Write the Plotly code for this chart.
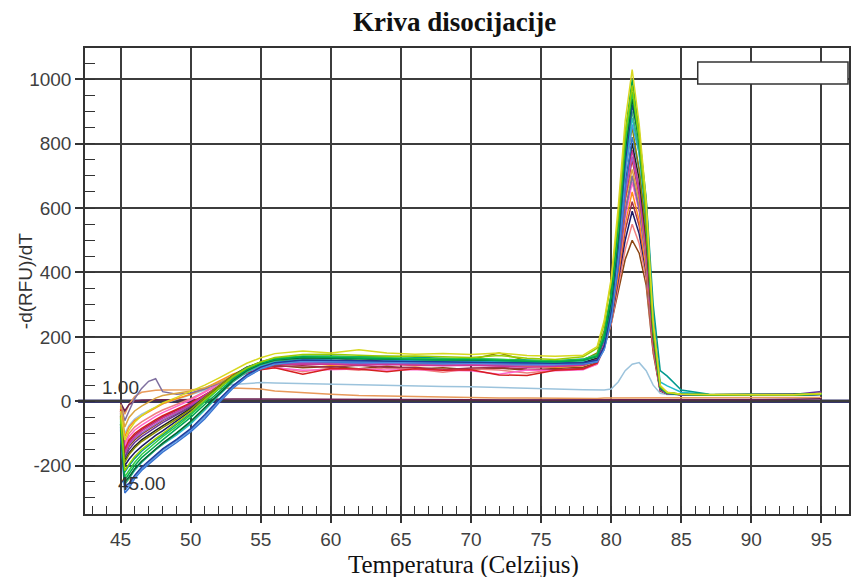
import plotly.graph_objects as go

# Temperature grid (deg C): left drop, plateau, melt peak + tail
temp_left = [45.0, 45.3, 45.6, 46, 46.5, 47, 47.5, 48, 49, 50, 51, 52, 53, 54, 55]
temp_mid = [56, 58, 60, 62, 64, 66, 68, 70, 72, 74, 76, 78]
temp_peak = [79, 79.5, 80, 80.5, 81, 81.5, 82, 82.5, 83, 83.5, 84, 85, 87, 90, 93, 95]
temperature = temp_left + temp_mid + temp_peak

# -d(RFU)/dT per well
well_24 = [-5, -40, -10, 15, 28, 32, 34, 35, 35, 36, 38, 40, 41, 40, 38,
           32, 26, 22, 18, 16, 14, 12, 11, 10, 10, 9, 9,
           9, 10, 10, 11, 12, 12, 12, 11, 10, 10, 10, 10, 10, 10, 10, 12]
well_25 = [-5, -30, -10, 0, 3, 4, 5, 5, 5, 6, 6, 6, 7, 7, 7,
           6, 6, 6, 5, 5, 5, 5, 5, 4, 4, 4, 4,
           4, 4, 5, 5, 5, 5, 5, 5, 5, 5, 6, 6, 6, 6, 6, 8]
well_23 = [-20, -100, -75, -55, -40, -28, -18, -8, 5, 20, 35, 45, 52, 56, 58,
           57, 55, 52, 50, 49, 48, 46, 45, 42, 40, 38, 36,
           35, 35, 38, 60, 95, 115, 120, 95, 50, 25, 21, 20, 20, 20, 20, 22]
well_14 = [-35, -170, -140, -120, -102, -88, -74, -60, -38, -14, 16, 46, 74, 94, 106,
           112, 104, 108, 101, 109, 100, 104, 98, 103, 96, 102, 106,
           120, 170, 240, 340, 440, 500, 460, 360, 150, 32, 23, 21, 20, 20, 20, 22]
well_13 = [-20, -130, -100, -80, -64, -50, -38, -27, -10, 8, 30, 55, 78, 94, 102,
           106, 92, 103, 96, 104, 100, 90, 101, 97, 88, 97, 100,
           115, 165, 240, 350, 470, 550, 490, 380, 155, 33, 23, 21, 20, 20, 20, 22]
well_12 = [-50, -200, -180, -160, -140, -122, -106, -92, -62, -30, 8, 44, 78, 104, 120,
           128, 130, 135, 127, 132, 125, 124, 130, 123, 126, 120, 122,
           130, 170, 250, 370, 500, 590, 520, 400, 165, 33, 23, 20, 20, 20, 19, 22]
well_27 = [-30, -155, -125, -105, -88, -74, -61, -48, -28, -8, 18, 46, 72, 90, 102,
           108, 110, 106, 112, 105, 106, 98, 103, 105, 100, 98, 102,
           118, 170, 255, 380, 530, 620, 545, 410, 165, 34, 23, 21, 20, 20, 20, 22]
well_11 = [-15, -110, -80, -60, -45, -32, -20, -8, 8, 22, 40, 62, 84, 100, 110,
           115, 120, 112, 114, 118, 110, 112, 116, 110, 108, 106, 110,
           125, 180, 260, 390, 550, 650, 560, 410, 165, 34, 24, 21, 20, 21, 20, 25]
well_16 = [-25, -140, -110, -90, -74, -60, -47, -35, -16, 4, 28, 54, 78, 94, 100,
           104, 96, 98, 100, 97, 99, 96, 95, 84, 97, 95, 98,
           115, 175, 270, 410, 570, 680, 590, 430, 175, 35, 24, 21, 20, 20, 20, 22]
well_10 = [-40, -175, -150, -128, -110, -95, -80, -66, -42, -18, 14, 46, 78, 100, 114,
           120, 124, 120, 117, 122, 116, 113, 118, 112, 113, 110, 114,
           128, 180, 270, 410, 590, 700, 600, 440, 180, 35, 24, 21, 20, 20, 21, 30]
well_21 = [-10, -60, -30, 8, 40, 62, 70, 30, 22, 26, 38, 56, 78, 96, 108,
           114, 118, 116, 115, 114, 116, 113, 112, 111, 112, 110, 112,
           125, 180, 270, 420, 590, 700, 600, 440, 175, 35, 24, 21, 20, 20, 20, 25]
well_22 = [-10, -80, -50, -30, -15, -2, 10, 18, 25, 32, 42, 58, 78, 96, 110,
           118, 124, 122, 120, 118, 120, 117, 116, 118, 115, 113, 116,
           130, 190, 290, 450, 620, 720, 620, 450, 180, 36, 24, 21, 20, 20, 20, 22]
well_09 = [-25, -150, -120, -100, -84, -70, -57, -45, -25, -5, 20, 46, 70, 88, 98,
           104, 84, 102, 100, 92, 101, 96, 98, 82, 80, 96, 100,
           118, 175, 270, 420, 630, 750, 640, 465, 185, 36, 24, 21, 20, 20, 21, 24]
well_20 = [-35, -165, -135, -115, -98, -84, -70, -58, -36, -12, 16, 46, 74, 96, 110,
           118, 120, 119, 118, 117, 118, 116, 115, 114, 113, 112, 116,
           130, 185, 285, 440, 640, 760, 650, 470, 190, 36, 24, 21, 20, 20, 20, 22]
well_08 = [-30, -160, -130, -110, -92, -78, -65, -52, -32, -10, 18, 48, 76, 96, 108,
           114, 116, 115, 113, 114, 112, 110, 112, 108, 106, 108, 112,
           130, 190, 290, 450, 660, 780, 660, 480, 190, 38, 25, 21, 20, 20, 20, 22]
well_17 = [-45, -185, -160, -140, -120, -104, -90, -76, -50, -22, 12, 46, 80, 106, 120,
           126, 128, 127, 125, 126, 124, 122, 120, 121, 120, 118, 120,
           135, 195, 300, 460, 680, 800, 690, 505, 200, 38, 25, 21, 20, 20, 20, 22]
well_06 = [-90, -285, -270, -240, -215, -195, -175, -158, -128, -95, -55, -5, 40, 75, 100,
           115, 124, 122, 120, 121, 118, 117, 119, 116, 115, 114, 116,
           122, 160, 250, 420, 660, 820, 720, 540, 230, 40, 24, 21, 20, 20, 19, 21]
well_07 = [-45, -190, -165, -145, -125, -110, -96, -82, -55, -25, 12, 48, 80, 105, 122,
           132, 136, 135, 132, 134, 130, 128, 130, 150, 126, 124, 128,
           150, 220, 330, 500, 720, 850, 720, 520, 205, 40, 26, 22, 20, 20, 20, 23]
well_28 = [-85, -275, -262, -236, -210, -190, -170, -152, -122, -90, -48, 0, 44, 78, 102,
           116, 125, 124, 122, 121, 120, 119, 120, 118, 117, 116, 118,
           124, 160, 260, 450, 700, 860, 770, 580, 245, 42, 25, 21, 20, 20, 19, 22]
well_15 = [-65, -255, -240, -215, -190, -170, -150, -134, -104, -70, -28, 18, 60, 90, 110,
           122, 130, 131, 138, 126, 127, 125, 124, 122, 123, 121, 124,
           140, 200, 310, 490, 730, 880, 770, 570, 235, 60, 48, 28, 21, 20, 20, 23]
well_26 = [-75, -258, -240, -212, -188, -168, -150, -133, -100, -66, -24, 20, 60, 92, 114,
           126, 134, 133, 131, 133, 129, 127, 129, 126, 125, 123, 126,
           138, 195, 305, 500, 760, 900, 780, 570, 225, 44, 26, 22, 20, 20, 20, 22]
well_05 = [-80, -265, -255, -230, -205, -185, -165, -148, -118, -85, -42, 5, 48, 82, 106,
           120, 128, 127, 126, 125, 124, 122, 123, 121, 120, 118, 120,
           128, 170, 280, 480, 740, 920, 820, 620, 260, 42, 25, 21, 20, 20, 19, 22]
well_04 = [-55, -220, -200, -178, -155, -136, -120, -104, -72, -38, 2, 40, 76, 104, 122,
           134, 140, 141, 138, 140, 136, 134, 132, 130, 128, 126, 131,
           145, 190, 300, 500, 770, 940, 830, 630, 300, 95, 78, 35, 22, 21, 20, 24]
well_19 = [-70, -250, -235, -210, -186, -166, -148, -130, -98, -62, -20, 24, 64, 95, 116,
           128, 135, 134, 133, 131, 130, 129, 130, 128, 126, 124, 128,
           140, 200, 310, 510, 780, 940, 800, 580, 225, 44, 26, 22, 20, 20, 20, 22]
well_03 = [-60, -235, -215, -190, -165, -145, -128, -110, -78, -42, -2, 38, 74, 102, 120,
           132, 140, 139, 137, 135, 133, 131, 133, 129, 127, 125, 130,
           145, 210, 330, 530, 800, 960, 810, 575, 220, 44, 26, 22, 20, 20, 20, 23]
well_02 = [-70, -245, -225, -200, -175, -155, -138, -120, -85, -50, -10, 30, 68, 98, 118,
           130, 138, 136, 134, 132, 130, 128, 130, 126, 124, 122, 128,
           140, 200, 330, 550, 830, 1000, 840, 600, 230, 45, 27, 22, 20, 21, 19, 22]
well_18 = [-50, -215, -195, -172, -150, -132, -116, -100, -68, -34, 5, 42, 76, 103, 122,
           136, 145, 146, 142, 140, 141, 138, 136, 142, 134, 130, 138,
           165, 240, 370, 570, 830, 980, 820, 590, 235, 46, 27, 22, 20, 20, 20, 23]
well_01 = [-30, -120, -90, -65, -45, -30, -18, -5, 12, 30, 50, 72, 95, 118, 135,
           148, 156, 150, 160, 150, 146, 148, 145, 150, 142, 140, 143,
           170, 250, 380, 600, 870, 1030, 860, 620, 250, 50, 28, 22, 21, 20, 20, 24]

wells = [well_24, well_25, well_23, well_14, well_13, well_12, well_27, well_11,
         well_16, well_10, well_21, well_22, well_09, well_20, well_08, well_17,
         well_06, well_07, well_28, well_15, well_26, well_05, well_04, well_19,
         well_03, well_02, well_18, well_01]
well_colors = ["#e89a5a", "#6b2050", "#9cc3dc", "#8b4513", "#f08080", "#1a1a66",
               "#a0304a", "#ff8c1a", "#ff66cc", "#663399", "#7f6f9f", "#d9a441",
               "#d62020", "#9966cc", "#cc3399", "#222222", "#3873d0", "#8a8a00",
               "#4f8fe0", "#22bbcc", "#3cb371", "#1f3c9c", "#00998f", "#006633",
               "#2ecc40", "#00a651", "#99cc00", "#d8d820"]

x_ticks = [45, 50, 55, 60, 65, 70, 75, 80, 85, 90, 95]
y_ticks = [-200, 0, 200, 400, 600, 800, 1000]
y_tick_text = ["-200", "0", "200", "400", "600", "800", "1000"]

x_range = [42.46, 96.97]
y_range = [-350, 1097]

fig = go.Figure()
for vals, col in zip(wells, well_colors):
    assert len(vals) == len(temperature)
    fig.add_trace(go.Scatter(x=temperature, y=vals, mode="lines",
                             line=dict(color=col, width=1.5), hoverinfo="skip"))

narrow = "Liberation Sans Narrow, Arial Narrow, Liberation Sans, Arial"
tick_font = dict(family=narrow, size=19, color="#3f3f3f")

fig.update_xaxes(range=x_range, tickmode="array", tickvals=x_ticks,
                 ticks="outside", ticklen=7, tickwidth=1.5, tickcolor="#333",
                 showgrid=True, gridcolor="#3c3c3c", gridwidth=1.5,
                 showline=True, linecolor="#333", linewidth=1.5, mirror=True,
                 zeroline=False, tickfont=tick_font,
                 minor=dict(tickmode="linear", tick0=45, dtick=1, ticks="inside", ticklen=8,
                            tickwidth=1.2, tickcolor="#333", showgrid=False))
fig.update_yaxes(range=y_range, tickmode="array", tickvals=y_ticks, ticktext=y_tick_text,
                 ticks="outside", ticklen=8, tickwidth=1.5, tickcolor="#333",
                 showgrid=True, gridcolor="#3c3c3c", gridwidth=1.5,
                 showline=True, linecolor="#333", linewidth=1.5, mirror=True,
                 zeroline=False, tickfont=tick_font,
                 minor=dict(tickmode="linear", tick0=0, dtick=50, ticks="inside", ticklen=10,
                            tickwidth=1.2, tickcolor="#333", showgrid=False))

shapes = [
    dict(type="line", xref="x", yref="paper", x0=45, x1=45, y0=0, y1=1,
         line=dict(color="white", width=3), layer="between"),
    dict(type="line", xref="x", yref="paper", x0=45, x1=45, y0=0, y1=1,
         line=dict(color="#e07a6a", width=1.2), layer="between"),
    dict(type="line", xref="paper", yref="y", x0=-0.009, x1=1, y0=0, y1=0,
         line=dict(color="#34346a", width=3.5), layer="between"),
    dict(type="rect", xref="paper", yref="paper", x0=0.802, x1=0.9987,
         y0=0.9227, y1=0.970, fillcolor="white",
         line=dict(color="#333", width=1.5), layer="above"),
]

annotations = [
    dict(text="<b>Kriva disocijacije</b>", xref="paper", yref="paper",
         x=0.4837, y=1.0558, xanchor="center", yanchor="middle", showarrow=False,
         font=dict(family="Liberation Serif, Times New Roman, serif", size=27, color="#111")),
    dict(text="Temperatura (Celzijus)", xref="paper", yref="paper",
         x=0.496, y=-0.1094, xanchor="center", yanchor="middle", showarrow=False,
         font=dict(family="Liberation Serif, Times New Roman, serif", size=25, color="#111")),
    dict(text="-d(RFU)/dT", xref="paper", yref="paper", textangle=-90,
         x=-0.0783, y=0.5, xanchor="center", yanchor="middle", showarrow=False,
         font=dict(family=narrow, size=19, color="#333")),
    dict(text="1.00", xref="x", yref="y", x=45.0, y=43, showarrow=False,
         xanchor="center", yanchor="middle",
         font=dict(family=narrow, size=19, color="#333")),
    dict(text="45.00", xref="x", yref="y", x=46.55, y=-256, showarrow=False,
         xanchor="center", yanchor="middle",
         font=dict(family=narrow, size=19, color="#333")),
]

fig.update_layout(width=852, height=577, margin=dict(l=85, r=1, t=48, b=63),
                  paper_bgcolor="white", plot_bgcolor="white", showlegend=False,
                  shapes=shapes, annotations=annotations)

fig.write_html("out.html")
